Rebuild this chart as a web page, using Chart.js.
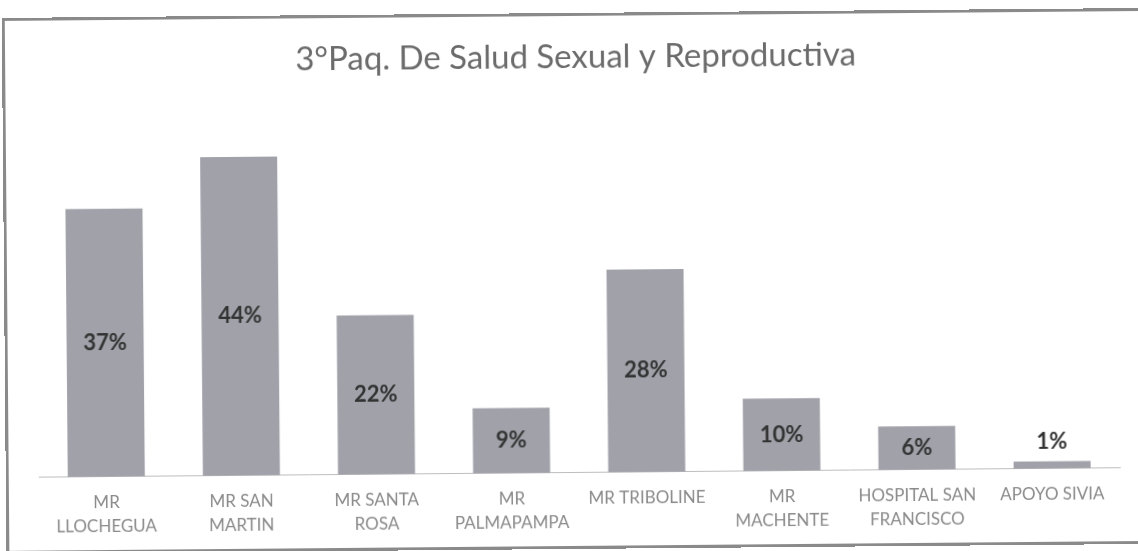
<!DOCTYPE html>
<html>
<head>
<meta charset="utf-8">
<script src="https://cdn.jsdelivr.net/npm/chart.js@4"></script>
<style>
    html, body { margin: 0; padding: 0; background: #ffffff; overflow: hidden; }
    #hoja { position: absolute; left: 0; top: 0; width: 1138px; height: 551px; transform: rotate(-0.5deg); transform-origin: 50% 50%; }
    #marco { position: absolute; left: 4px; top: 13px; width: 1150px; height: 530px; border: 3px solid #8a8a8a; pointer-events: none; }
    #grafico { position: absolute; left: 0; top: 0; }
</style>
</head>
<body>
<div id="hoja">
    <canvas id="grafico" width="1138" height="551"></canvas>
    <div id="marco"></div>
</div>
<script>
// Datos del gráfico
const categorias = [
    ['MR', 'LLOCHEGUA'],
    ['MR SAN', 'MARTIN'],
    ['MR SANTA', 'ROSA'],
    ['MR', 'PALMAPAMPA'],
    'MR TRIBOLINE',
    ['MR', 'MACHENTE'],
    ['HOSPITAL SAN', 'FRANCISCO'],
    'APOYO SIVIA'
];
const porcentajes = [37, 44, 22, 9, 28, 10, 6, 1];
const titulo = '3°Paq. De Salud Sexual y Reproductiva';

// Etiquetas dentro de las barras (o encima si la barra es muy baja)
const etiquetasBarras = {
    id: 'etiquetasBarras',
    afterDatasetsDraw(chart) {
        const ctx = chart.ctx;
        const meta = chart.getDatasetMeta(0);
        ctx.save();
        ctx.font = 'bold 22px Lato';
        ctx.fillStyle = '#333333';
        ctx.textAlign = 'center';
        ctx.textBaseline = 'middle';
        meta.data.forEach(function(bar, i) {
            const alto = bar.base - bar.y;
            let y = (bar.y + bar.base) / 2;
            if (alto < 24) y = bar.y - 20;
            ctx.fillText(porcentajes[i] + '%', bar.x, y);
        });
        ctx.restore();
    }
};

new Chart(document.getElementById('grafico').getContext('2d'), {
    type: 'bar',
    data: {
        labels: categorias,
        datasets: [{
            data: porcentajes,
            backgroundColor: '#a0a1a9',
            borderWidth: 0,
            barPercentage: 0.57,
            categoryPercentage: 1
        }]
    },
    options: {
        responsive: false,
        animation: false,
        layout: { padding: { left: 37, right: 20, top: 0, bottom: 3 } },
        plugins: {
            legend: { display: false },
            tooltip: { enabled: false },
            title: {
                display: true,
                text: titulo,
                color: '#6b6b6b',
                font: { family: 'Lato', size: 33, weight: 'normal' },
                padding: { top: 38, bottom: 33 }
            }
        },
        scales: {
            y: {
                display: false,
                min: 0,
                max: 50
            },
            x: {
                grid: { display: false, drawTicks: false },
                border: { display: true, color: '#bdbdbd', width: 1 },
                ticks: {
                    color: '#8a8a8a',
                    font: { family: 'Lato', size: 17, lineHeight: 1.45 },
                    padding: 13,
                    maxRotation: 0,
                    autoSkip: false
                }
            }
        }
    },
    plugins: [etiquetasBarras]
});
</script>
</body>
</html>
